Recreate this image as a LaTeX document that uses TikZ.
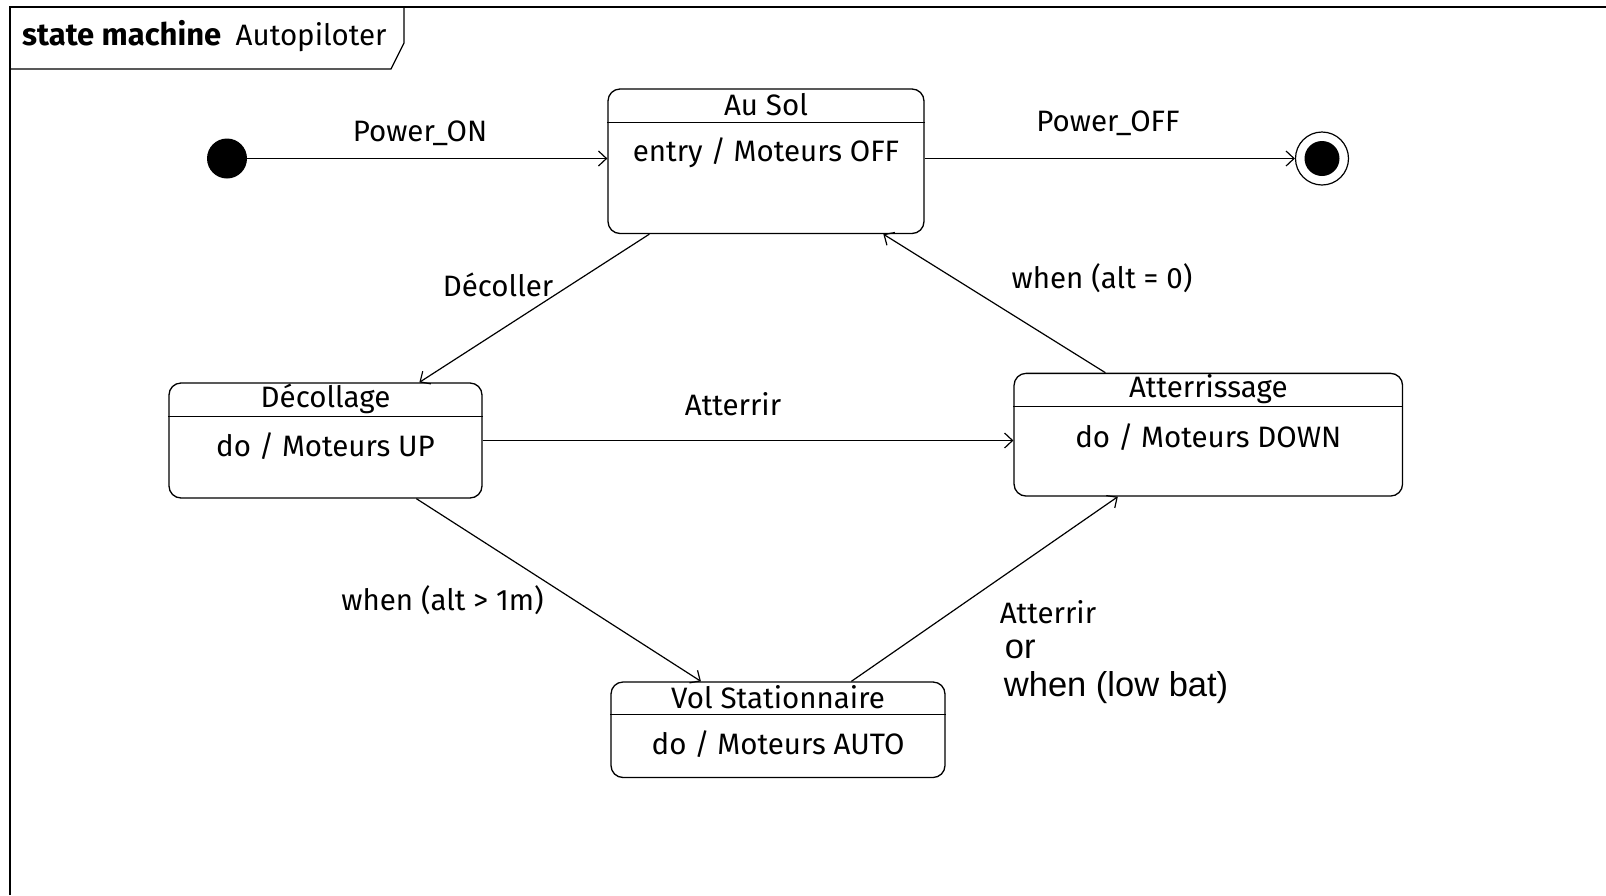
\documentclass[tikz,border=0pt]{standalone}
\usepackage{fontspec}
\setmainfont{Liberation Sans}
\newfontfamily\umlfont{Fira Sans}
\newfontfamily\arialfont{Liberation Sans}
\usetikzlibrary{arrows.meta,calc}

\tikzset{
  uml/.style={font=\umlfont\fontsize{29.5}{33}\selectfont, inner sep=0pt},
  plain/.style={font=\arialfont\fontsize{34.5}{38}\selectfont, inner sep=0pt},
  statebox/.style={draw, line width=1.3pt, rounded corners=12pt, inner sep=0pt},
  trans/.style={line width=1.2pt, -{Straight Barb[length=8pt,width=15pt,line width=1.2pt]}},
  sep/.style={line width=1.2pt}
}

\begin{document}
\begin{tikzpicture}[x=1pt,y=-1pt]
  \useasboundingbox (0,0) rectangle (1606,895);

  % diagram frame and its name tab
  \draw[line width=1.5pt] (10,895) -- (10,7) -- (1606,7);
  \draw[line width=1.3pt] (10,69) -- (391,69) -- (404,43) -- (404,7);
  \node[uml, anchor=base west, font=\umlfont\bfseries\fontsize{31}{34}\selectfont] (kw) at (22,45) {state machine};
  \node[uml, anchor=base west] (smname) at (235.5,45) {Autopiloter};

  % pseudo states
  \node[circle, fill=black, minimum size=40pt, inner sep=0pt] (init) at (227,158.5) {};
  \node[circle, draw, line width=1.2pt, minimum size=53pt, inner sep=0pt] (final) at (1322,158.5) {};
  \fill (final) circle (17.5pt);

  % states
  \node[statebox, minimum width=316pt, minimum height=144.5pt] (ausol) at (766,161.25) {};
  \draw[sep] ([yshift=-34pt]ausol.north west) -- ([yshift=-34pt]ausol.north east);
  \node[uml] (ausolT) at (766,104.5) {Au Sol};
  \node[uml] (ausolB) at (766,152.6) {entry / Moteurs OFF};

  \node[statebox, minimum width=313pt, minimum height=115pt] (decollage) at (325.5,440.5) {};
  \draw[sep] ([yshift=-34pt]decollage.north west) -- ([yshift=-34pt]decollage.north east);
  \node[uml] (decollageT) at (325.5,398.5) {Décollage};
  \node[uml] (decollageB) at (325.5,446.5) {do / Moteurs UP};

  \node[statebox, minimum width=388.5pt, minimum height=122.7pt] (atter) at (1208.3,434.7) {};
  \draw[sep] ([yshift=-34pt]atter.north west) -- ([yshift=-34pt]atter.north east);
  \node[uml] (atterT) at (1208.3,389.5) {Atterrissage};
  \node[uml] (atterB) at (1208.3,437.5) {do / Moteurs DOWN};

  \node[statebox, minimum width=334pt, minimum height=95.5pt] (volstat) at (778,729.75) {};
  \draw[sep] ([yshift=-33pt]volstat.north west) -- ([yshift=-33pt]volstat.north east);
  \node[uml] (volstatT) at (778,697.5) {Vol Stationnaire};
  \node[uml] (volstatB) at (778,744.6) {do / Moteurs AUTO};

  % transitions
  \draw[trans] (init) -- (init -| ausol.west);
  \node[uml] (lpon) at (420,133) {Power\_ON};

  \draw[trans] (ausol.east |- final) -- (final);
  \node[uml] (lpoff) at (1108,123) {Power\_OFF};

  \draw[trans] ([xshift=42pt]ausol.south west) -- ([xshift=251pt]decollage.north west);
  \node[uml] (ldec) at (498,284.5) {Décoller};

  \draw[trans] ([xshift=92pt]atter.north west) -- ([xshift=276pt]ausol.south west);
  \node[uml] (lalt0) at (1102,278.5) {when (alt = 0)};

  \draw[trans] (decollage.east) -- (decollage.east -| atter.west);
  \node[uml] (latt1) at (733,404.5) {Atterrir};

  \draw[trans] ([xshift=248pt]decollage.south west) -- ([xshift=90.6pt]volstat.north west);
  \node[uml] (lalt1) at (442.5,600) {when (alt > 1m)};

  \draw[trans] ([xshift=241pt]volstat.north west) -- ([xshift=104.4pt]atter.south west);
  \node[uml, anchor=base west] (latt2) at (999.6,623.5) {Atterrir};
  \node[plain, anchor=base west] (lor) at (1004.7,658) {or};
  \node[plain, anchor=base west] (llow) at (1003.7,696) {when (low bat)};
\end{tikzpicture}
\end{document}
